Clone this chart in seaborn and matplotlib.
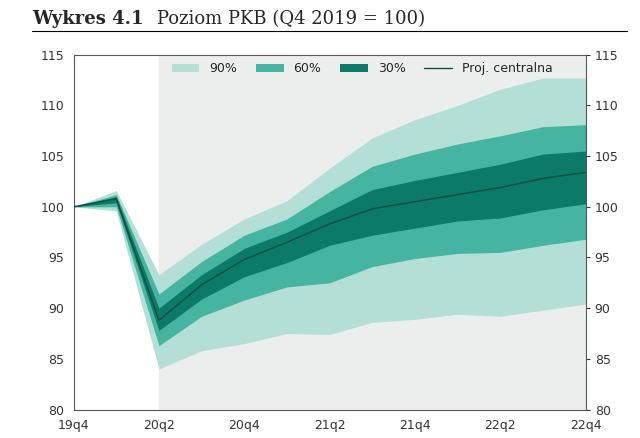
import numpy as np
import pandas as pd
import matplotlib.pyplot as plt
import seaborn as sns

quarters = ["19q4", "20q1", "20q2", "20q3", "20q4", "21q1", "21q2", "21q3", "21q4", "22q1", "22q2", "22q3", "22q4"]
central = [100, 100.8, 88.8, 92.3, 94.8, 96.5, 98.3, 99.8, 100.5, 101.2, 101.9, 102.8, 103.4]
up90 = [100, 101.6, 93.3, 96.3, 98.8, 100.6, 103.8, 106.8, 108.6, 110.0, 111.6, 112.7, 112.7]
lo90 = [100, 99.6, 84.0, 85.8, 86.5, 87.5, 87.4, 88.6, 88.9, 89.4, 89.2, 89.8, 90.4]
up60 = [100, 101.2, 91.4, 94.6, 97.2, 98.8, 101.5, 104.0, 105.2, 106.2, 107.0, 107.9, 108.1]
lo60 = [100, 100.0, 86.3, 89.2, 90.8, 92.1, 92.5, 94.1, 94.9, 95.4, 95.5, 96.2, 96.8]
up30 = [100, 101.0, 90.0, 93.3, 95.9, 97.5, 99.6, 101.7, 102.6, 103.4, 104.2, 105.2, 105.5]
lo30 = [100, 100.4, 87.8, 90.9, 93.1, 94.5, 96.2, 97.2, 97.9, 98.6, 98.9, 99.7, 100.3]

df = pd.DataFrame({"q": quarters, "x": np.arange(len(quarters)), "central": central})

sns.set_style("white")
fig = plt.figure(figsize=(6.4, 4.38), dpi=100)
ax = fig.add_axes([0.115, 0.065, 0.8, 0.81])

ax.axvspan(2, 12, color="#eceeee", zorder=0)
x = df["x"]
ax.fill_between(x, lo90, up90, color="#b3dfd6", lw=0, label="90%", zorder=1)
ax.fill_between(x, lo60, up60, color="#45b4a0", lw=0, label="60%", zorder=2)
ax.fill_between(x, lo30, up30, color="#0b7a66", lw=0, label="30%", zorder=3)
sns.lineplot(data=df, x="x", y="central", ax=ax, color="#0c4d42", lw=1, label="Proj. centralna", zorder=4)

ax.set_xlim(0, 12)
ax.set_ylim(80, 115)
ax.set_xticks(range(0, 13, 2))
ax.set_xticklabels(quarters[::2])
ax.set_yticks(range(80, 116, 5))
ax.tick_params(labelsize=9, colors="#333333", right=True, labelright=True, length=3, direction="out")
ax.set_xlabel("")
ax.set_ylabel("")
for s in ax.spines.values():
    s.set_color("#555555")
    s.set_linewidth(0.8)
ax.legend(loc="upper left", bbox_to_anchor=(0.17, 1.01), ncol=4, frameon=False, fontsize=9,
          handlelength=2.2, columnspacing=1.5)

fig.text(0.05, 0.945, "Wykres 4.1", fontsize=13, fontweight="bold", family="DejaVu Serif")
fig.text(0.245, 0.945, "Poziom PKB (Q4 2019 = 100)", fontsize=13, family="DejaVu Serif")
fig.add_artist(plt.Line2D([0.05, 0.98], [0.93, 0.93], color="black", lw=0.8))

plt.savefig("out.png", dpi=100)
